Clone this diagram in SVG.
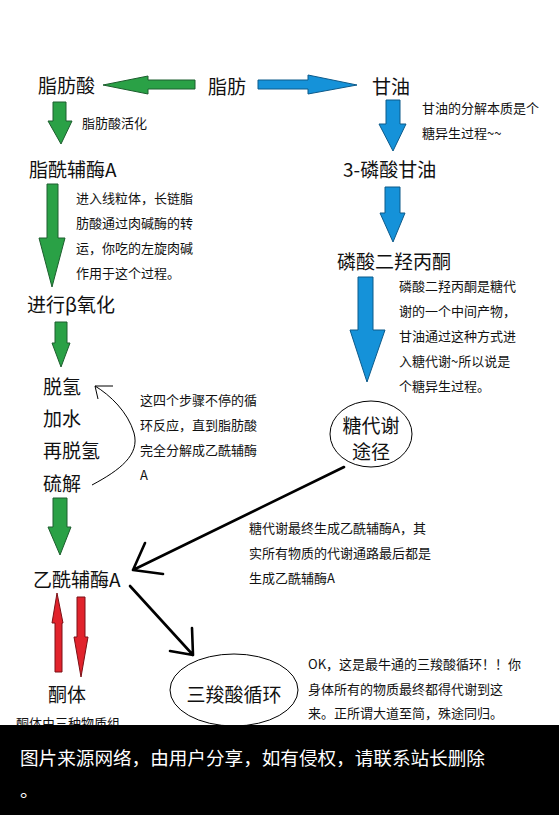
<svg xmlns="http://www.w3.org/2000/svg" width="559" height="815" viewBox="0 0 559 815">
<style>
text{font-family:"Noto Sans CJK SC","Noto Sans",sans-serif;fill:#111;dominant-baseline:central}
.big{font-size:19px}
.sm{font-size:13px}
.g{fill:#2aa146;stroke:#1d5e2e;stroke-width:1}
.b{fill:#1592d9;stroke:#0d5a8a;stroke-width:1}
.r{fill:#e1232c;stroke:#7a1016;stroke-width:1}
.thick{fill:none;stroke:#000;stroke-width:2.6;stroke-linecap:round}
.thin{fill:none;stroke:#000;stroke-width:1}
.ell{fill:#fff;stroke:#000;stroke-width:1}
</style>
<rect width="559" height="815" fill="#fff"/>
<g id="connectors">
<polygon class="g" points="103,85 148,76 148,80 195,80 195,89 148,89 148,94"/>
<polygon class="b" points="258,80 308,80 308,75 357,85 308,94 308,89 258,89"/>
<polygon class="g" points="53,102 66,102 66,121 72,121 61,144 48,121 53,121"/>
<polygon class="g" points="47,184 58,184 58,238 65,238 52,287 39,238 47,238"/>
<polygon class="g" points="55,322 67,322 67,343 70,343 61,367 52,343 55,343"/>
<polygon class="g" points="53,498 67,498 67,527 71,527 60,555 48,527 53,527"/>
<polygon class="b" points="386,100 400,100 400,124 406,124 393,151 379,124 386,124"/>
<polygon class="b" points="385,187 400,187 400,213 405,213 393,242 380,213 385,213"/>
<polygon class="b" points="358,277 373,277 373,330 385,330 367,382 350,330 358,330"/>
<polygon class="r" points="57,593 63,623 62,623 62,672 55,672 55,623 52,623"/>
<polygon class="r" points="77,597 85,597 85,637 88,637 81,677 74,637 77,637"/>
<path class="thin" d="M92,485 C120,470 140,455 134,433 C128,412 110,395 95,386 M95,386 L113,386 M95,386 L98,399"/>
<path class="thick" d="M344,467 L133,570 M133,570 L145,543 M133,570 L163,574"/>
<path class="thick" d="M130,586 L193,655 M193,655 L192,628 M193,655 L170,651"/>
</g>
<g id="n-zhifang"><text class="big" x="208" y="85">脂肪</text></g>
<g id="n-zhifangsuan"><text class="big" x="38" y="84">脂肪酸</text></g>
<g id="n-ganyou"><text class="big" x="372" y="85">甘油</text></g>
<g id="t-huohua"><text class="sm" x="82" y="122">脂肪酸活化</text></g>
<g id="n-zhixian"><text class="big" x="29" y="168">脂酰辅酶A</text></g>
<g id="t-xianliti">
<text class="sm" x="76" y="197">进入线粒体，长链脂</text>
<text class="sm" x="76" y="222">肪酸通过肉碱酶的转</text>
<text class="sm" x="76" y="247">运，你吃的左旋肉碱</text>
<text class="sm" x="76" y="272">作用于这个过程。</text>
</g>
<g id="n-beta"><text class="big" x="27" y="303">进行β氧化</text></g>
<g id="n-steps">
<text class="big" x="43" y="385">脱氢</text>
<text class="big" x="43" y="417">加水</text>
<text class="big" x="43" y="449">再脱氢</text>
<text class="big" x="43" y="482">硫解</text>
</g>
<g id="t-xunhuan">
<text class="sm" x="140" y="399">这四个步骤不停的循</text>
<text class="sm" x="140" y="424">环反应，直到脂肪酸</text>
<text class="sm" x="140" y="449">完全分解成乙酰辅酶</text>
<text class="sm" x="140" y="474">A</text>
</g>
<g id="t-ganyou">
<text class="sm" x="422" y="107">甘油的分解本质是个</text>
<text class="sm" x="422" y="132">糖异生过程~~</text>
</g>
<g id="n-3lin"><text class="big" x="343" y="168">3-磷酸甘油</text></g>
<g id="n-linsuan"><text class="big" x="337" y="260">磷酸二羟丙酮</text></g>
<g id="t-linsuan">
<text class="sm" x="399" y="285">磷酸二羟丙酮是糖代</text>
<text class="sm" x="399" y="310">谢的一个中间产物，</text>
<text class="sm" x="399" y="335">甘油通过这种方式进</text>
<text class="sm" x="399" y="360">入糖代谢~所以说是</text>
<text class="sm" x="399" y="385">个糖异生过程。</text>
</g>
<g id="n-tangdaixie">
<ellipse class="ell" cx="371" cy="434" rx="41" ry="33"/>
<text class="big" x="371" y="424" text-anchor="middle">糖代谢</text>
<text class="big" x="371" y="450" text-anchor="middle">途径</text>
</g>
<g id="t-tang">
<text class="sm" x="249" y="527">糖代谢最终生成乙酰辅酶A，其</text>
<text class="sm" x="249" y="552">实所有物质的代谢通路最后都是</text>
<text class="sm" x="249" y="577">生成乙酰辅酶A</text>
</g>
<g id="n-yixian"><text class="big" x="33" y="578">乙酰辅酶A</text></g>
<g id="n-tongti"><text class="big" x="48" y="693">酮体</text></g>
<g id="t-tongti"><text class="sm" x="16" y="722">酮体由三种物质组</text></g>
<g id="n-tca">
<ellipse class="ell" cx="234" cy="690" rx="64" ry="36"/>
<text class="big" x="234" y="693" text-anchor="middle">三羧酸循环</text>
</g>
<g id="t-tca">
<text class="sm" x="308" y="663">OK，这是最牛通的三羧酸循环！！你</text>
<text class="sm" x="308" y="688">身体所有的物质最终都得代谢到这</text>
<text class="sm" x="308" y="712">来。正所谓大道至简，殊途同归。</text>
</g>
<g id="banner">
<rect x="0" y="725" width="559" height="90" fill="#000"/>
<text x="20" y="756" style="font-size:18.6px;fill:#fff">图片来源网络，由用户分享，如有侵权，请联系站长删除</text>
<text x="20" y="788" style="font-size:18.6px;fill:#fff">。</text>
</g>
</svg>
